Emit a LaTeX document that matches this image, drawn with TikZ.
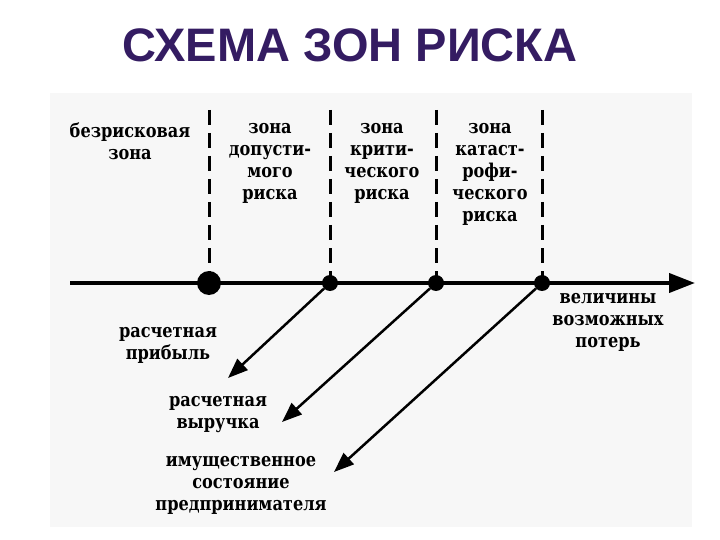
\documentclass[tikz,border=0pt]{standalone}
\usepackage{fontspec}
\setmainfont{DejaVu Serif}[FakeStretch=0.85]
\newfontfamily\titlefont{Liberation Sans}
\usetikzlibrary{arrows.meta}
\definecolor{titleviolet}{RGB}{52,28,98}
\tikzset{
  lbl/.style={font=\bfseries\fontsize{19}{22}\selectfont, align=center, inner sep=0pt},
  pt/.style={circle, fill, inner sep=0pt, minimum size=16pt},
  zline/.style={line width=3pt, dash pattern=on 15pt off 8pt},
  ray/.style={line width=2.5pt, -{Triangle[length=20pt,width=15pt]}}
}
\begin{document}
\begin{tikzpicture}[x=1pt,y=-1pt]
\useasboundingbox (0,0) rectangle (720,540);
\fill[black!3] (50,93) rectangle (692,527);
\node[font=\titlefont\bfseries\fontsize{47}{47}\selectfont, text=titleviolet] (ttl) at (350,45) {СХЕМА ЗОН РИСКА};
% axis
\coordinate (ax0) at (70,283);
\coordinate (ax1) at (695,283);
\draw[line width=4pt, -{Triangle[length=26pt,width=19pt]}] (ax0) -- (ax1);
% points on the axis
\node[pt, minimum size=24pt] (tid0) at (209,283){};
\node[pt] (tid1) at (330,283){};
\node[pt] (tid2) at (436,283){};
\node[pt] (tid3) at (542,283){};
\coordinate (top0) at (209,110);
\coordinate (top1) at (330,110);
\coordinate (top2) at (436,110);
\coordinate (top3) at (542,110);
\draw[zline] (top0) -- (tid0.center);
\draw[zline] (top1) -- (tid1.center);
\draw[zline] (top2) -- (tid2.center);
\draw[zline] (top3) -- (tid3.center);
% zones
\node[lbl, anchor=north] (lz0) at (130,123) {безрисковая\\зона};
\node[lbl, anchor=north] (lz1) at (270,123) {зона\\допусти-\\мого\\риска};
\node[lbl, anchor=north] (lz2) at (382,123) {зона\\крити-\\ческого\\риска};
\node[lbl, anchor=north] (lz3) at (490,123) {зона\\катаст-\\рофи-\\ческого\\риска};
\node[lbl, anchor=north] (lp) at (608,293) {величины\\возможных\\потерь};
% results
\node[lbl, anchor=north] (lr0) at (168,327) {расчетная\\прибыль};
\node[lbl, anchor=north] (lr1) at (218,396) {расчетная\\выручка};
\node[lbl, anchor=north] (lr2) at (241,456) {имущественное\\состояние\\предпринимателя};
\coordinate (tip1) at (228,378);
\coordinate (tip2) at (282,422);
\coordinate (tip3) at (334,472);
\draw[ray] (tid1) -- (tip1);
\draw[ray] (tid2) -- (tip2);
\draw[ray] (tid3) -- (tip3);
\end{tikzpicture}
\end{document}
